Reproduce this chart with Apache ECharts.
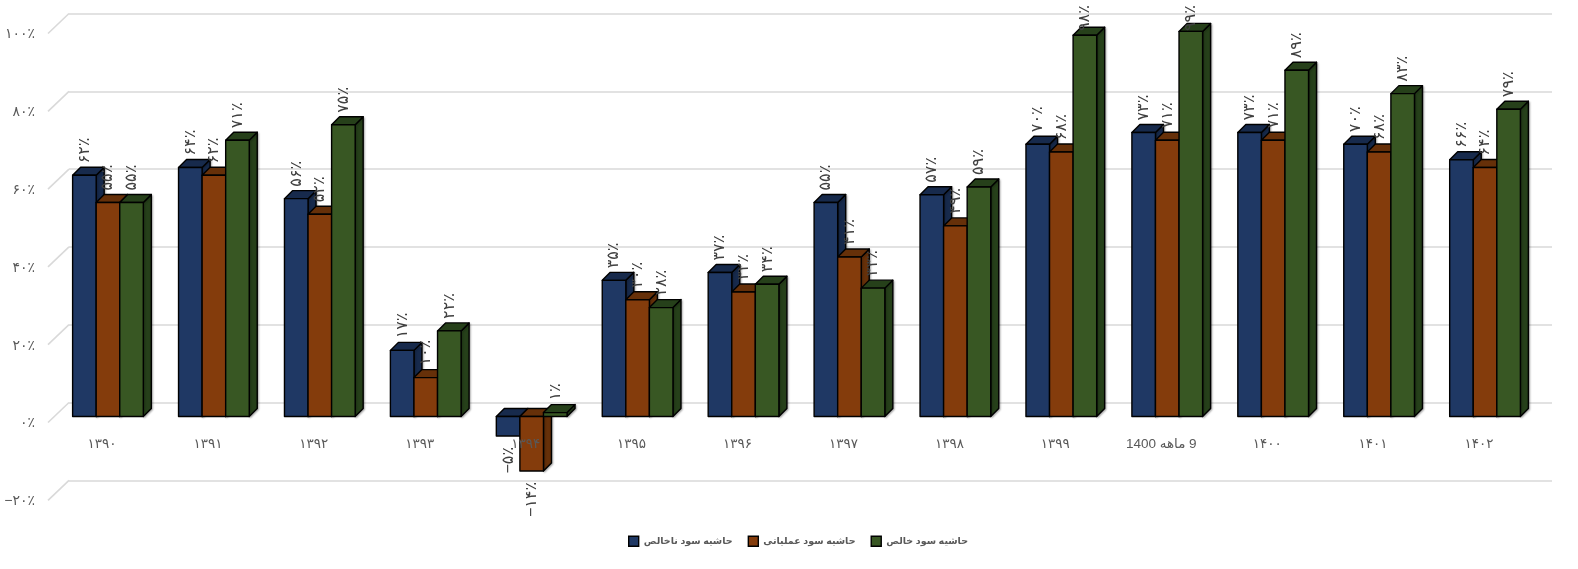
<!DOCTYPE html>
<html><head><meta charset="utf-8">
<script src="https://cdn.jsdelivr.net/npm/echarts@6/dist/echarts.min.js"></script>
<style>html,body{margin:0;padding:0;background:#fff}#c{width:1578px;height:569px}</style>
</head><body><div id="c"></div>
<script>
const categories = ['۱۳۹۰','۱۳۹۱','۱۳۹۲','۱۳۹۳','۱۳۹۴','۱۳۹۵','۱۳۹۶','۱۳۹۷','۱۳۹۸','۱۳۹۹','\u202B9 ماهه 1400\u202C','۱۴۰۰','۱۴۰۱','۱۴۰۲'];
const grossMargin = [62,64,56,17,-5,35,37,55,57,70,73,73,70,66];
const operatingMargin = [55,62,52,10,-14,30,32,41,49,68,71,71,68,64];
const netMargin = [55,71,75,22,1,28,34,33,59,98,99,89,83,79];
const yTicks = [-20,0,20,40,60,80,100];
const yTickLabels = ['−۲۰٪','۰٪','۲۰٪','۴۰٪','۶۰٪','۸۰٪','۱۰۰٪'];
const seriesNames = ['حاشیه سود ناخالص','حاشیه سود عملیاتی','حاشیه سود خالص'];
const frontColors = ['#1f3864','#843c0c','#385723'];
const shadeColors = ['#172a4c','#663009','#26401a'];
const seriesValues = [grossMargin, operatingMargin, netMargin];

const FONT = '"Liberation Sans","DejaVu Sans",sans-serif';
const faDigits = '۰۱۲۳۴۵۶۷۸۹';
function pct(v){ return (v<0?'−':'') + String(Math.abs(v)).replace(/\d/g,d=>faDigits[d]) + '٪'; }

const shiftX = -14, shiftY = 14, depth = 8, wallDepth = 21;
const edge = {stroke:'#000', lineWidth:1.4, lineJoin:'round'};

function barRenderer(si){
  return function(params, api){
    const idx = api.value(0), v = api.value(1);
    const band = api.size([1,0])[0];
    const w = band*0.2225;
    const c = api.coord([idx, v]);
    const z = api.coord([idx, 0]);
    const xL = c[0] + shiftX + (si-1.5)*w, xR = xL + w;
    const yT = Math.min(c[1], z[1]) + shiftY, yB = Math.max(c[1], z[1]) + shiftY;
    const col = frontColors[si], sh = shadeColors[si];
    const shadow = {shadowColor:'rgba(0,0,0,0.28)', shadowBlur:2, shadowOffsetX:1, shadowOffsetY:1};
    const kids = [
      {type:'polygon', z2:1, shape:{points:[[xR,yT],[xR+depth,yT-depth],[xR+depth,yB-depth],[xR,yB]]}, style:Object.assign({fill:sh},edge,shadow)},
      {type:'polygon', z2:1, shape:{points:[[xL,yT],[xL+depth,yT-depth],[xR+depth,yT-depth],[xR,yT]]}, style:Object.assign({fill:sh},edge)},
      {type:'rect', z2:2, shape:{x:xL,y:yT,width:w,height:yB-yT}, style:Object.assign({fill:col},edge)}
    ];
    return {type:'group', children:kids};
  };
}
function labelRenderer(si){
  return function(params, api){
    const idx = api.value(0), v = api.value(1);
    const band = api.size([1,0])[0];
    const w = band*0.2225;
    const c = api.coord([idx, v]);
    const x = c[0] + shiftX + (si-1)*w;
    let y, align;
    if (v >= 0) { y = Math.max(c[1] + shiftY - 12, 31); align = 'left'; }
    else { y = c[1] + shiftY + 11; align = 'right'; }
    return {type:'text', x:x, y:y, rotation:Math.PI/2, style:{text:pct(v), align:align, verticalAlign:'middle', fill:'#404040', font:'16px '+FONT}};
  };
}
const indexed = a => a.map((v,i)=>[i,v]);

const series = [];
seriesValues.forEach((vals,si)=>{
  series.push({name:seriesNames[si], type:'custom', coordinateSystem:'cartesian2d', z:3+si,
    itemStyle:{color:frontColors[si]}, encode:{x:0,y:1}, data:indexed(vals), renderItem:barRenderer(si), silent:true, animation:false});
});
seriesValues.forEach((vals,si)=>{
  series.push({type:'custom', coordinateSystem:'cartesian2d', z:20, encode:{x:0,y:1}, data:indexed(vals), renderItem:labelRenderer(si), silent:true, animation:false});
});
series.push({type:'custom', coordinateSystem:'cartesian2d', z:1, encode:{y:0}, data:yTicks.map(v=>[v]),
  renderItem:function(params, api){
    const y = api.coord([0, api.value(0)])[1], x = params.coordSys.x;
    return {type:'line', shape:{x1:x,y1:y,x2:x-wallDepth,y2:y+20}, style:{stroke:'#d9d9d9',lineWidth:1.6}};
  }, silent:true, animation:false});

const chart = echarts.init(document.getElementById('c'), null, {renderer:'canvas'});
chart.setOption({
  animation:false,
  backgroundColor:'#fff',
  textStyle:{fontFamily:FONT},
  grid:{left:69, top:13.5, width:1483, height:466.8, containLabel:false},
  xAxis:{type:'category', data:categories, z:10,
    axisLine:{show:false, onZero:true}, axisTick:{show:false}, splitLine:{show:false},
    axisLabel:{interval:0, color:'#595959', fontSize:13.5, fontFamily:FONT, margin:-43, padding:[0,40,0,0]}},
  yAxis:{type:'value', min:-20, max:100, interval:20,
    axisLine:{show:false}, axisTick:{show:false},
    splitLine:{show:true, lineStyle:{color:'#d9d9d9', width:1.6}},
    axisLabel:{color:'#595959', fontSize:14, fontFamily:FONT, margin:34, verticalAlign:'top', padding:[14,0,0,0],
      formatter:v=>yTickLabels[yTicks.indexOf(v)]}},
  legend:{show:true, data:seriesNames.map((n,i)=>({name:n, icon:'rect', itemStyle:{color:frontColors[i],borderColor:'#000',borderWidth:1.4}})),
    left:623, top:530.5, itemWidth:10, itemHeight:10, itemGap:15, orient:'horizontal',
    textStyle:{color:'#595959', fontSize:9.5, fontWeight:'bold', fontFamily:FONT}},
  series:series
});
</script></body></html>
